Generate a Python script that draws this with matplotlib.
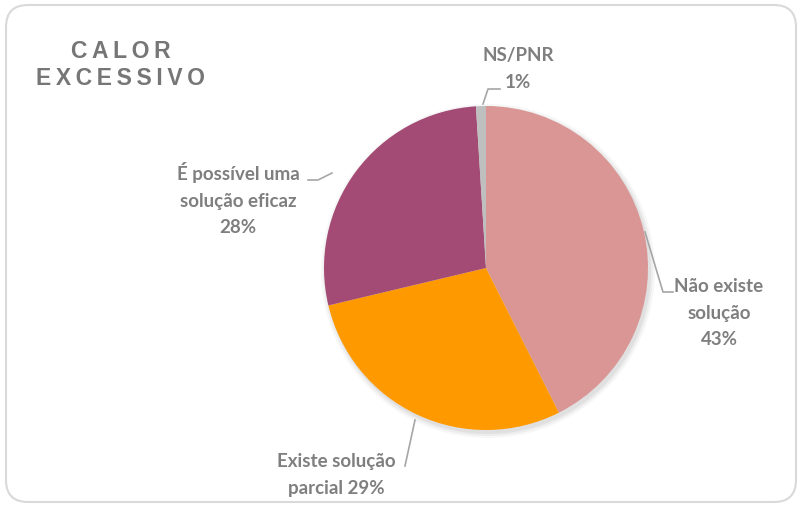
import matplotlib.pyplot as plt
from matplotlib.patches import FancyBboxPatch, Circle

# dados
labels = ['Não existe\nsolução\n43%', 'Existe solução\nparcial 29%',
          'É possível uma\nsolução eficaz\n28%', 'NS/PNR\n1%']
values = [43, 29, 28, 1]
colors = ['#D99694', '#FF9900', '#A44B75', '#BFBFBF']
title = 'CALOR\nEXCESSIVO'

W, H = 802, 507
fig = plt.figure(figsize=(W / 100, H / 100), dpi=100)
ax = fig.add_axes([0, 0, 1, 1])
ax.set_xlim(0, W)
ax.set_ylim(0, H)
ax.set_aspect('equal')
ax.axis('off')

# moldura arredondada
frame = FancyBboxPatch((6, 5), W - 12, H - 10, boxstyle='round,pad=0,rounding_size=22',
                       fc='white', ec='#D9D9D9', lw=1.5)
ax.add_patch(frame)

cx, cy, r = 486, H - 268, 162

# sombra suave
for i, a in enumerate([0.05, 0.04, 0.03]):
    ax.add_patch(Circle((cx + 2, cy - 3), r + 1 + i * 2, color='black', alpha=a, lw=0))

wedges, _ = ax.pie(values, colors=colors, startangle=90, counterclock=False,
                   center=(cx, cy), radius=r, frame=True,
                   wedgeprops=dict(linewidth=0))
ax.set_xlim(0, W)
ax.set_ylim(0, H)
ax.axis('off')

txt = dict(color='#7F7F7F', fontsize=13.5, fontweight='bold', family=['Lato', 'DejaVu Sans'],
           ha='center', va='center', linespacing=1.7)

# rótulos e linhas de chamada
lc = dict(color='#A6A6A6', lw=1.2)
ax.text(719, H - 313, labels[0], **txt)
ax.plot([645, 663, 673], [H - 232, H - 292, H - 292], **lc)

ax.text(336, H - 475, labels[1], **txt)
ax.plot([415, 405], [H - 420, H - 466], **lc)

ax.text(238, H - 199, labels[2], **txt)
ax.plot([308, 318, 332], [H - 180, H - 180, H - 173], **lc)

ax.text(518, H - 69, labels[3], **txt)
ax.plot([483, 488, 500], [H - 104, H - 89, H - 89], **lc)

# título
t = '\n'.join('\u2009'.join(line) for line in title.split('\n'))
ax.text(121, H - 65, t, color='#767676', fontsize=16.5, fontweight='bold',
        family=['Liberation Sans', 'DejaVu Sans'], ha='center', va='center', linespacing=1.2)

fig.savefig('out.png', dpi=100)
